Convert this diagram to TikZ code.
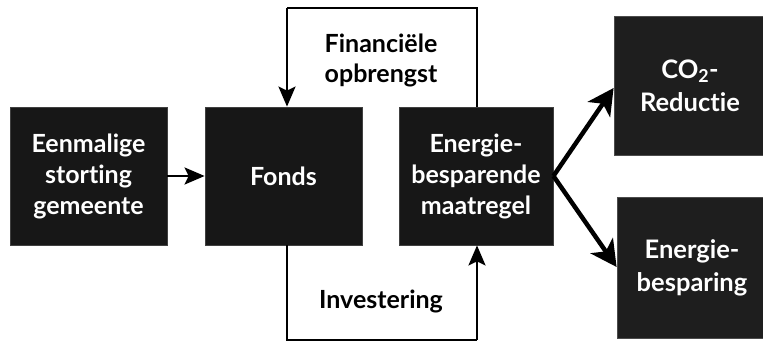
\documentclass[tikz,border=0pt]{standalone}
\usepackage{fontspec}
\setmainfont{Lato}[RawFeature={-liga;-clig;-dlig}]
\usetikzlibrary{arrows.meta}
\definecolor{boxblack}{HTML}{171717}
\definecolor{boxgrey}{HTML}{1E1E1E}
\tikzset{
  mainbox/.style={draw=black!75!white, fill=boxblack, text=white, line width=0.8pt, inner sep=0pt,
    font=\fontsize{25}{31}\selectfont\bfseries, align=center},
  sidebox/.style={draw=black!70, fill=boxgrey, text=white, line width=0.8pt, inner sep=0pt,
    font=\fontsize{25.5}{33}\selectfont\bfseries, align=center},
  flow/.style={line width=2.2pt, -{Stealth[length=20pt,width=17pt,inset=4pt]}},
  loop/.style={line width=2.2pt},
  thick arrow/.style={line width=4.5pt, -{Stealth[length=26pt,width=27pt,inset=7pt]}},
  lbl/.style={font=\fontsize{25}{30}\selectfont\bfseries, align=center, inner sep=0pt}
}
\begin{document}
\begin{tikzpicture}[x=1pt,y=-1pt]
\useasboundingbox (0,0) rectangle (763,342);
\node[mainbox, minimum width=157pt, minimum height=138pt] (een) at (88.5,176) {Eenmalige\\storting\\gemeente};
\node[mainbox, minimum width=157pt, minimum height=138pt] (fonds) at (283.5,176) {Fonds};
\node[mainbox, minimum width=154pt, minimum height=138pt] (ener) at (476,176) {Energie-\\besparende\\maatregel};
\node[sidebox, minimum width=152pt, minimum height=139pt] (co2) at (690,85.5) {CO\textsubscript{2}-\\Reductie};
\node[sidebox, minimum width=150pt, minimum height=141pt] (bes) at (692,267.5) {Energie-\\besparing};
\coordinate (tl) at (287,8);
\coordinate (tr) at (477,8);
\coordinate (bl) at (287,340);
\coordinate (br) at (477,340);
\draw[flow] (een.east) -- (fonds.west);
\draw[loop] (ener.north -| tr) -- (tr) -- (tl);
\draw[flow] (tl) -- (fonds.north -| tl);
\draw[loop] (fonds.south -| bl) -- (bl) -- (br);
\draw[flow] (br) -- (ener.south -| br);
\node[lbl] (fin) at (381,60) {Financiële\\opbrengst};
\node[lbl] (inv) at (381,301) {Investering};
\draw[thick arrow] (ener.east) -- (co2.west |- 0,88);
\draw[thick arrow] (ener.east) -- (bes.west |- 0,267);
\end{tikzpicture}
\end{document}
